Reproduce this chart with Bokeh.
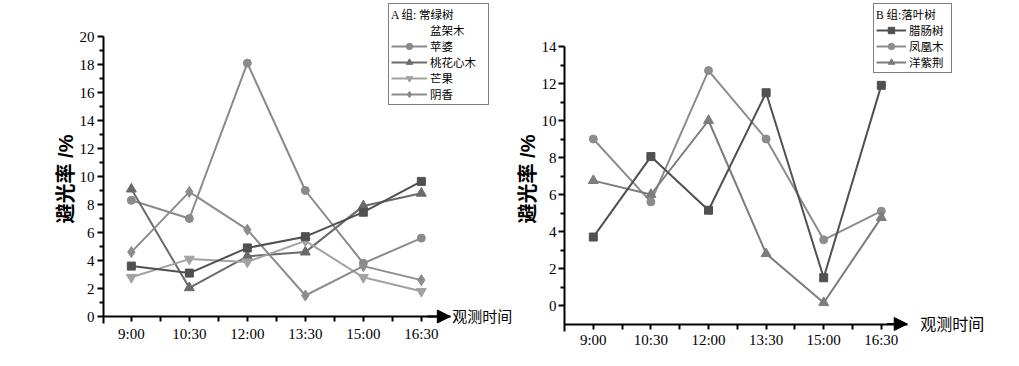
from bokeh.plotting import figure
from bokeh.layouts import row
from bokeh.models import (FixedTicker, Legend, LegendItem, Arrow, NormalHead, Label, LabelSet,
                          ColumnDataSource, Range1d)
from bokeh.embed import file_html
from bokeh.resources import INLINE

times = ["9:00", "10:30", "12:00", "13:30", "15:00", "16:30"]

# Group A: evergreen
a_title = "A 组: 常绿树"
a_names = ["盆架木", "苹婆", "桃花心木", "芒果", "阴香"]
penjiamu = [3.6, 3.1, 4.9, 5.7, 7.45, 9.65]
pingpo = [8.3, 7.0, 18.1, 9.0, 3.8, 5.6]
taohuaxinmu = [9.1, 2.05, 4.3, 4.6, 7.9, 8.8]
mangguo = [2.8, 4.1, 3.9, 5.4, 2.8, 1.8]
yinxiang = [4.6, 8.9, 6.2, 1.5, 3.6, 2.6]

# Group B: deciduous
b_title = "B 组:落叶树"
b_names = ["腊肠树", "凤凰木", "洋紫荆"]
lachangshu = [3.7, 8.05, 5.15, 11.5, 1.5, 11.9]
fenghuangmu = [9.0, 5.6, 12.7, 9.0, 3.55, 5.1]
yangzijing = [6.75, 6.0, 10.0, 2.8, 0.15, 4.75]

a_yticks = [0, 2, 4, 6, 8, 10, 12, 14, 16, 18, 20]
b_yticks = [0, 2, 4, 6, 8, 10, 12, 14]

ylabel = "避光率 /%"
xlabel = "观测时间"

CJK = "'Liberation Sans', 'Noto Sans CJK SC'"
LEGF = "'Liberation Serif', 'Noto Sans CJK SC'"
SERIF = "Liberation Serif"
xs = list(range(len(times)))


def style(p, yticks, minor_y, xb, yb, xfix, tick_standoff, lab_standoff, label_off):
    p.xgrid.visible = False
    p.ygrid.visible = False
    p.outline_line_color = None
    # x ticks (at the times and midway between them); labels drawn below as a LabelSet
    p.xaxis.ticker = FixedTicker(ticks=[], minor_ticks=[i * 0.5 for i in range(2 * len(xs) - 1)])
    p.yaxis.ticker = FixedTicker(ticks=yticks, minor_ticks=minor_y)
    p.xaxis.bounds = xb
    p.yaxis.bounds = yb
    p.xaxis.fixed_location = xfix
    for ax in (p.xaxis[0], p.yaxis[0]):
        ax.axis_line_width = 2
        ax.axis_line_color = "black"
        ax.major_tick_line_width = 2
        ax.minor_tick_line_width = 2
        ax.major_tick_out = 6
        ax.major_tick_in = 0
        ax.minor_tick_out = 4
        ax.minor_tick_in = 0
        ax.major_label_text_font = SERIF
        ax.major_label_text_font_size = "15px"
        ax.major_label_text_color = "black"
    p.xaxis.minor_tick_out = 5
    p.yaxis.major_label_standoff = tick_standoff
    src = ColumnDataSource(dict(x=xs, y=[xfix] * len(xs), t=times))
    p.add_layout(LabelSet(x="x", y="y", text="t", source=src, y_offset=label_off,
                          text_align="center", text_baseline="top", text_font=SERIF,
                          text_font_size="15px", text_color="black"))
    p.yaxis.axis_label = ylabel
    p.yaxis.axis_label_text_font = CJK
    p.yaxis.axis_label_text_font_size = "20px"
    p.yaxis.axis_label_text_font_style = "bold"
    p.yaxis.axis_label_text_color = "black"
    p.yaxis.axis_label_standoff = lab_standoff


def series(p, y, marker, color, size):
    r1 = p.line(xs, y, line_color=color, line_width=2)
    r2 = p.scatter(xs, y, marker=marker, size=size, fill_color=color, line_color=color)
    return [r1, r2]


def legend(title, items, loc, gw, lw):
    return Legend(items=items, location=loc, title=title,
                  title_text_font=LEGF, title_text_font_size="11.5px", title_text_font_style="normal",
                  title_text_color="black", title_standoff=0,
                  label_text_font=LEGF, label_text_font_size="11.5px", label_text_color="black",
                  label_height=16, glyph_height=16, glyph_width=gw, label_width=lw,
                  label_standoff=3, spacing=0, padding=2, margin=0,
                  border_line_color="black", border_line_width=1,
                  background_fill_color="white", background_fill_alpha=1)


# ---------- Left figure ----------
pA = figure(frame_width=410, frame_height=357, output_backend="svg", toolbar_location=None,
            title=None,
            x_range=Range1d(-0.48, -0.48 + 410 / 58), y_range=Range1d(-41 / 14, 316 / 14),
            min_border_left=103, min_border_right=0, min_border_top=0, min_border_bottom=0)
style(pA, a_yticks, [1, 3, 5, 7, 9, 11, 13, 15, 17, 19], (-0.48, 5.5), (-0.5, 20), 0, 3, 0, -9)

dummy = pA.line(x=[], y=[], line_alpha=0)
rA1 = series(pA, pingpo, "circle", "#8a8a8a", 8)
rA2 = series(pA, taohuaxinmu, "triangle", "#6a6a6a", 10)
rA3 = series(pA, mangguo, "inverted_triangle", "#a2a2a2", 10)
rA4 = series(pA, yinxiang, "diamond", "#8c8c8c", 11)
rA0 = series(pA, penjiamu, "square", "#505050", 8)

itemsA = [LegendItem(label=a_names[0], renderers=[dummy]),
          LegendItem(label=a_names[1], renderers=rA1),
          LegendItem(label=a_names[2], renderers=rA2),
          LegendItem(label=a_names[3], renderers=rA3),
          LegendItem(label=a_names[4], renderers=rA4)]
pA.add_layout(legend(a_title, itemsA, (285, 252), 36, 56))

pA.add_layout(Arrow(end=NormalHead(size=13, fill_color="black", line_color="black"),
                    x_start=5.1, x_end=5.5, y_start=0, y_end=0, line_width=2, line_color="black"))
pA.add_layout(Label(x=5.5, y=0, x_offset=2, text=xlabel, text_font=CJK, text_font_size="15px",
                    text_baseline="middle", text_color="black"))

# ---------- Right figure ----------
pB = figure(frame_width=447, frame_height=357, output_backend="svg", toolbar_location=None,
            title=None,
            x_range=Range1d(-0.5, -0.5 + 447 / 57.6),
            y_range=Range1d(-1 - 33.5 / 18.5, -1 + 323.5 / 18.5),
            min_border_left=51, min_border_right=0, min_border_top=0, min_border_bottom=0)
style(pB, b_yticks, [1, 3, 5, 7, 9, 11, 13], (-0.5, 5.45), (-1.38, 14), -1, 2, 0, -8)

rB2 = series(pB, fenghuangmu, "circle", "#8c8c8c", 8)
rB3 = series(pB, yangzijing, "triangle", "#7c7c7c", 10)
rB1 = series(pB, lachangshu, "square", "#505050", 8)

itemsB = [LegendItem(label=b_names[0], renderers=rB1),
          LegendItem(label=b_names[1], renderers=rB2),
          LegendItem(label=b_names[2], renderers=rB3)]
pB.add_layout(legend(b_title, itemsB, (309, 284), 30, 40))

pB.add_layout(Arrow(end=NormalHead(size=13, fill_color="black", line_color="black"),
                    x_start=5.1, x_end=5.45, y_start=-1, y_end=-1, line_width=2, line_color="black"))
pB.add_layout(Label(x=5.45, y=-1, x_offset=13, text=xlabel, text_font=CJK, text_font_size="16px",
                    text_baseline="middle", text_color="black"))

layout = row(pA, pB)
open("out.html", "w").write(file_html(layout, INLINE))
